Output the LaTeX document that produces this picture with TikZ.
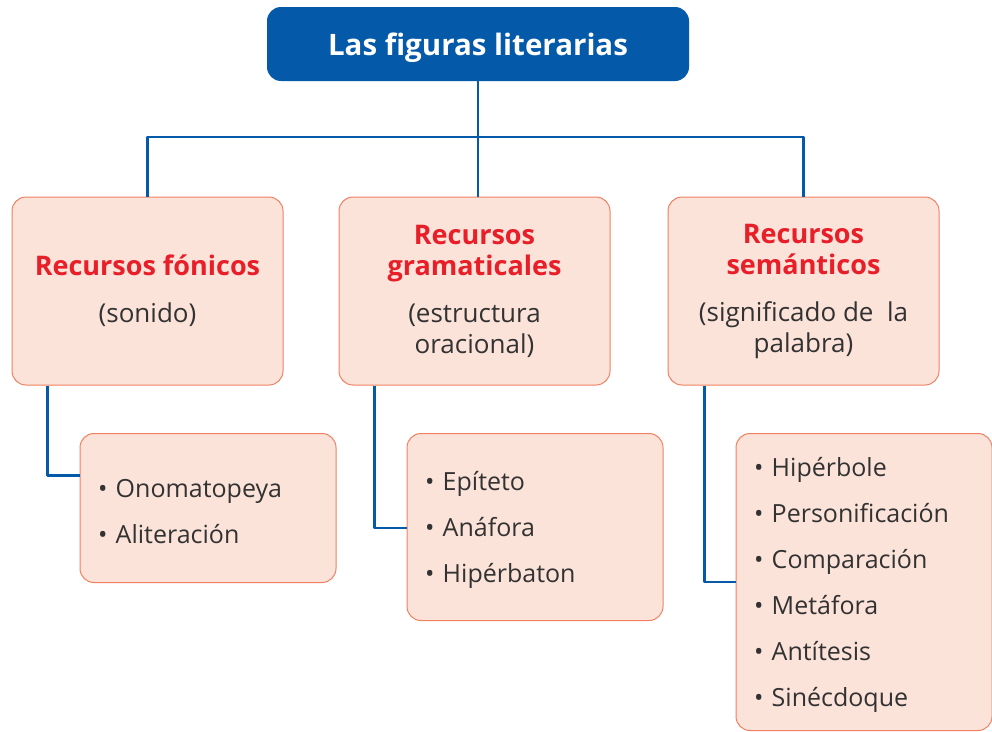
\documentclass[tikz,border=0pt]{standalone}
\usepackage{fontspec}
\setmainfont{Open Sans}
\definecolor{azul}{RGB}{4,89,169}
\definecolor{salmon}{RGB}{252,227,218}
\definecolor{coral}{RGB}{240,128,96}
\definecolor{rojo}{RGB}{232,30,40}
\definecolor{gris}{RGB}{50,50,50}
\tikzset{
  titulo/.style={fill=azul, rounded corners=14pt, minimum width=422pt, minimum height=74pt,
    text height=23pt, text depth=0pt,
    text=white, font=\fontsize{29.5}{34}\selectfont\bfseries},
  recurso/.style={fill=salmon, draw=coral, line width=1pt, rounded corners=14pt,
    minimum width=271pt, minimum height=188pt, align=center, text=gris,
    font=\fontsize{26}{31}\selectfont},
  lista/.style={fill=salmon, draw=coral, line width=1pt, rounded corners=14pt,
    text width=220pt, inner xsep=18pt, align=left, text=gris,
    font=\fontsize{25}{46}\selectfont},
  enlace/.style={azul, line width=2.2pt}
}
\newcommand{\rec}[1]{{\fontsize{27}{31}\selectfont\bfseries\color{rojo}#1}}
\newcommand{\arriba}{\rule{0pt}{25pt}}
\begin{document}
\begin{tikzpicture}[x=1pt,y=-1pt,line join=round]
  \useasboundingbox (0,0) rectangle (992,731);
  \coordinate (bus) at (478,137);
  % conexiones
  \node[titulo] (titulo) at (478,44) {Las figuras literarias};
  \node[recurso] (fonicos) at (147.5,291) {\rec{Recursos fónicos}\\[16pt] (sonido)};
  \node[recurso] (gramat) at (474.5,291) {\rec{Recursos}\\ \rec{gramaticales}\\[16pt] (estructura\\ oracional)};
  \node[recurso] (seman) at (803.5,291) {\rec{Recursos}\\ \rec{semánticos}\\[16pt] (significado de\ \ la\\ palabra)};
  \node[lista, minimum height=149pt] (lfon) at (208,508) {\arriba• Onomatopeya\\ • Aliteración};
  \node[lista, minimum height=187pt] (lgram) at (535,527) {\arriba• Epíteto\\ • Anáfora\\ • Hipérbaton};
  \node[lista, minimum height=297pt] (lsem) at (864,582)
    {\arriba• Hipérbole\\ • Personificación\\ • Comparación\\ • Metáfora\\ • Antítesis\\ • Sinécdoque};
  \draw[enlace] (titulo.south) -- (titulo.south |- gramat.north);
  \draw[enlace] (fonicos.north) |- (bus) -| (seman.north);
  \draw[enlace] ([xshift=36pt]fonicos.south west) |- ([yshift=32.5pt]lfon.west);
  \draw[enlace] ([xshift=36pt]gramat.south west) |- ([yshift=-1pt]lgram.west);
  \draw[enlace] ([xshift=37pt]seman.south west) |- (lsem.west);
\end{tikzpicture}
\end{document}
